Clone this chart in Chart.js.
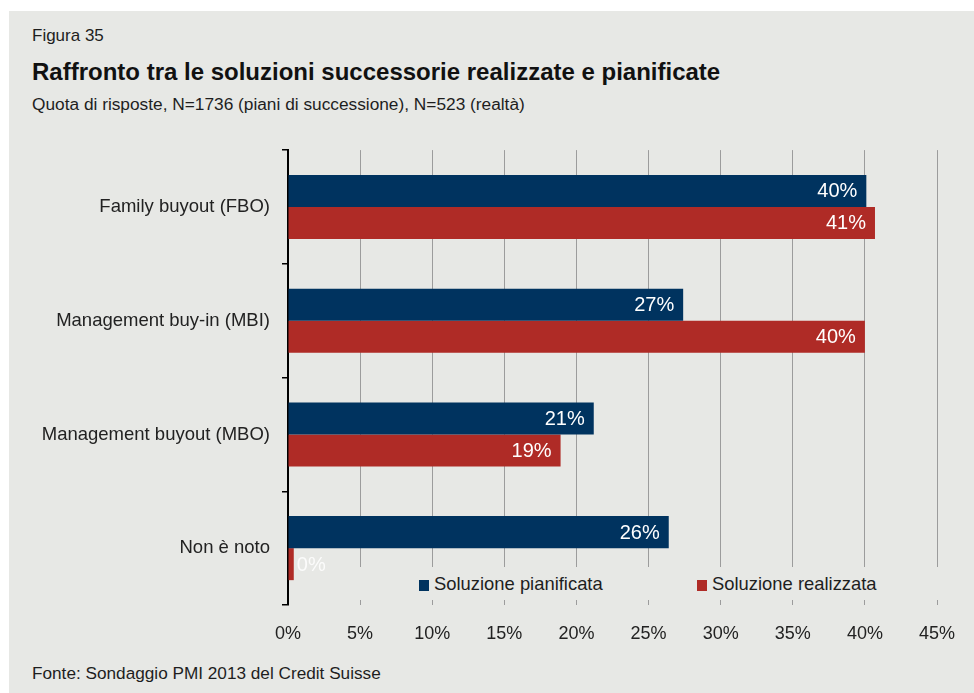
<!DOCTYPE html>
<html lang="it">
<head>
<meta charset="utf-8">
<title>Figura 35</title>
<script src="https://cdn.jsdelivr.net/npm/chart.js@4.4.0/dist/chart.umd.min.js"></script>
<style>
    html, body {
        margin: 0;
        padding: 0;
        background: #ffffff;
        width: 974px;
        height: 693px;
        overflow: hidden;
        font-family: "Liberation Sans", Arial, sans-serif;
        color: #1e1e1e;
    }
    .panel {
        position: absolute;
        left: 9px;
        top: 11px;
        width: 965px;
        height: 682px;
        background: #e7e8e5;
    }
    .txt {
        position: absolute;
        left: 32px;
        white-space: nowrap;
    }
    #fig-num { top: 26px; font-size: 17px; line-height: 20px; }
    #fig-title { top: 58px; font-size: 24px; line-height: 28px; font-weight: bold; color: #111; }
    #fig-sub { top: 94px; font-size: 17.3px; line-height: 20px; }
    #fig-src { top: 663px; font-size: 17.2px; line-height: 20px; }
    #chart-box {
        position: absolute;
        left: 0;
        top: 127px;
        width: 974px;
        height: 528px;
    }
    #legend {
        position: absolute;
        left: 330px;
        top: 567px;
        width: 612px;
        height: 33px;
        background: #e7e8e5;
        z-index: 2;
    }
    .leg-item {
        position: absolute;
        top: 0;
        line-height: 33px;
        font-size: 18.4px;
        color: #1e1e1e;
        white-space: nowrap;
    }
    .leg-item span.sw {
        display: inline-block;
        width: 10px;
        height: 11px;
        margin-right: 5px;
        vertical-align: -1px;
    }
</style>
</head>
<body>
<div class="panel"></div>
<div class="txt" id="fig-num">Figura 35</div>
<div class="txt" id="fig-title">Raffronto tra le soluzioni successorie realizzate e pianificate</div>
<div class="txt" id="fig-sub">Quota di risposte, N=1736 (piani di successione), N=523 (realtà)</div>
<div class="txt" id="fig-src">Fonte: Sondaggio PMI 2013 del Credit Suisse</div>

<div id="chart-box"><canvas id="bar-chart" width="974" height="528"></canvas></div>
<div id="legend"></div>

<script>
// categorie e valori (%)
const categories = ['Family buyout (FBO)', 'Management buy-in (MBI)', 'Management buyout (MBO)', 'Non è noto'];
const pianificata = [40.1, 27.4, 21.2, 26.4];
const realizzata = [40.7, 40.0, 18.9, 0.4];
const seriesNames = ['Soluzione pianificata', 'Soluzione realizzata'];
const xTicks = [0, 5, 10, 15, 20, 25, 30, 35, 40, 45];

const BLUE = '#00335f';
const RED = '#af2b26';
const FONT = '"Liberation Sans", Arial, sans-serif';

// etichette dei valori dentro le barre
const valueLabels = {
    id: 'valueLabels',
    afterDatasetsDraw(chart) {
        const ctx = chart.ctx;
        ctx.save();
        ctx.font = '20px ' + FONT;
        ctx.textBaseline = 'middle';
        chart.data.datasets.forEach((ds, i) => {
            const meta = chart.getDatasetMeta(i);
            meta.data.forEach((bar, j) => {
                const v = ds.data[j];
                const txt = Math.round(v) + '%';
                if (v < 1) {
                    ctx.fillStyle = 'rgba(255,255,255,0.85)';
                    ctx.textAlign = 'left';
                    ctx.fillText(txt, bar.x + 3, bar.y + 1);
                } else {
                    ctx.fillStyle = '#ffffff';
                    ctx.textAlign = 'right';
                    ctx.fillText(txt, bar.x - 9, bar.y + 1);
                }
            });
        });
        ctx.restore();
    }
};

const ctx = document.getElementById('bar-chart').getContext('2d');
new Chart(ctx, {
    type: 'bar',
    data: {
        labels: categories,
        datasets: [
            { label: seriesNames[0], data: pianificata, backgroundColor: BLUE },
            { label: seriesNames[1], data: realizzata, backgroundColor: RED }
        ]
    },
    options: {
        indexAxis: 'y',
        responsive: false,
        animation: false,
        categoryPercentage: 0.563,
        barPercentage: 1,
        layout: { padding: { top: 0, right: 37, left: 0, bottom: 0 } },
        plugins: {
            legend: { display: false },
            tooltip: { enabled: false }
        },
        scales: {
            x: {
                min: 0,
                max: 45,
                afterFit: (s) => { s.height = 50; },
                afterBuildTicks: (s) => { s.ticks = xTicks.map(v => ({ value: v })); },
                border: { display: false },
                grid: { color: '#9c9c9c', lineWidth: 1, drawTicks: false },
                ticks: {
                    padding: 18,
                    color: '#222',
                    font: { family: FONT, size: 18 },
                    callback: (v) => v + '%'
                }
            },
            y: {
                afterFit: (s) => { s.width = 288; },
                border: { display: true, color: '#000', width: 2 },
                grid: { drawOnChartArea: false, drawTicks: true, tickLength: 6, color: '#000', lineWidth: 1.5 },
                ticks: {
                    padding: 12,
                    color: '#222',
                    font: { family: FONT, size: 18.5 }
                }
            }
        }
    },
    plugins: [valueLabels]
});

// legenda
const legend = document.getElementById('legend');
const legendLeft = [89, 367];
seriesNames.forEach((name, i) => {
    const item = document.createElement('div');
    item.className = 'leg-item';
    item.style.left = legendLeft[i] + 'px';
    item.innerHTML = `<span class="sw" style="background:${i === 0 ? BLUE : RED}"></span>${name}`;
    legend.appendChild(item);
});
</script>
</body>
</html>
